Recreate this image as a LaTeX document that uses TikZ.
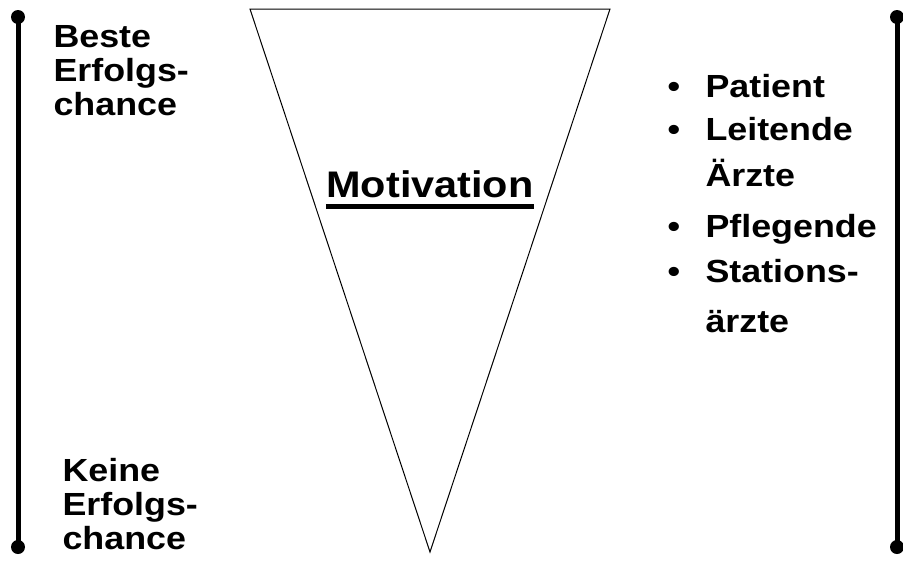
\documentclass[tikz,border=0pt]{standalone}
\usepackage{fontspec}
\newfontfamily\diafont{Liberation Sans}[FakeStretch=1.12]
\usetikzlibrary{positioning}

\begin{document}
\begin{tikzpicture}[
    x=1pt,
    y=-1pt,
    line width=1pt,
    every node/.style={inner sep=0pt},
    lbl/.style={
        font=\diafont\bfseries\fontsize{32}{34}\selectfont,
        align=left
    },
    title/.style={
        font=\diafont\bfseries\fontsize{37}{40}\selectfont
    },
    bar/.style={line width=5pt},
    endpt/.style={
        circle,
        fill=black,
        minimum size=14pt
    },
]
\useasboundingbox (0,0) rectangle (903,563);

% scale bars
\node[endpt] (ltop) at (18,17) {};
\node[endpt] (lbot) at (18,547) {};
\node[endpt] (rtop) at (897,17) {};
\node[endpt] (rbot) at (897,547) {};
\draw[bar] (ltop.center) -- (lbot.center);
\draw[bar] (rtop.center) -- (rbot.center);

% funnel
\coordinate (tl) at (250,9);
\coordinate (tr) at (610,9);
\coordinate (tip) at (430,552);
\draw (tl) -- (tr) -- (tip) -- cycle;

\node[title, anchor=base] (mot) at (430,197) {Motivation};
\draw[line width=5pt] ([yshift=-9pt]mot.base west) -- ([yshift=-9pt]mot.base east);

% left labels
\node[lbl, anchor=north west] (best) at (53,25) {Beste\\Erfolgs-\\chance};
\node[lbl, anchor=north west] (none) at (62,458) {Keine\\Erfolgs-\\chance};

% right list
\node[lbl, anchor=base west] (pat)  at (705,97)  {Patient};
\node[lbl, anchor=base west] (lei)  at (705,140) {Leitende};
\node[lbl, anchor=base west] (lei2) at (705,186) {Ärzte};
\node[lbl, anchor=base west] (pfl)  at (705,237) {Pflegende};
\node[lbl, anchor=base west] (sta)  at (705,282) {Stations-};
\node[lbl, anchor=base west] (sta2) at (705,332) {ärzte};
\foreach \n in {pat,lei,pfl,sta}
    \node[lbl, anchor=base] at ([xshift=-31pt]\n.base west) {\textbullet};

\end{tikzpicture}
\end{document}
